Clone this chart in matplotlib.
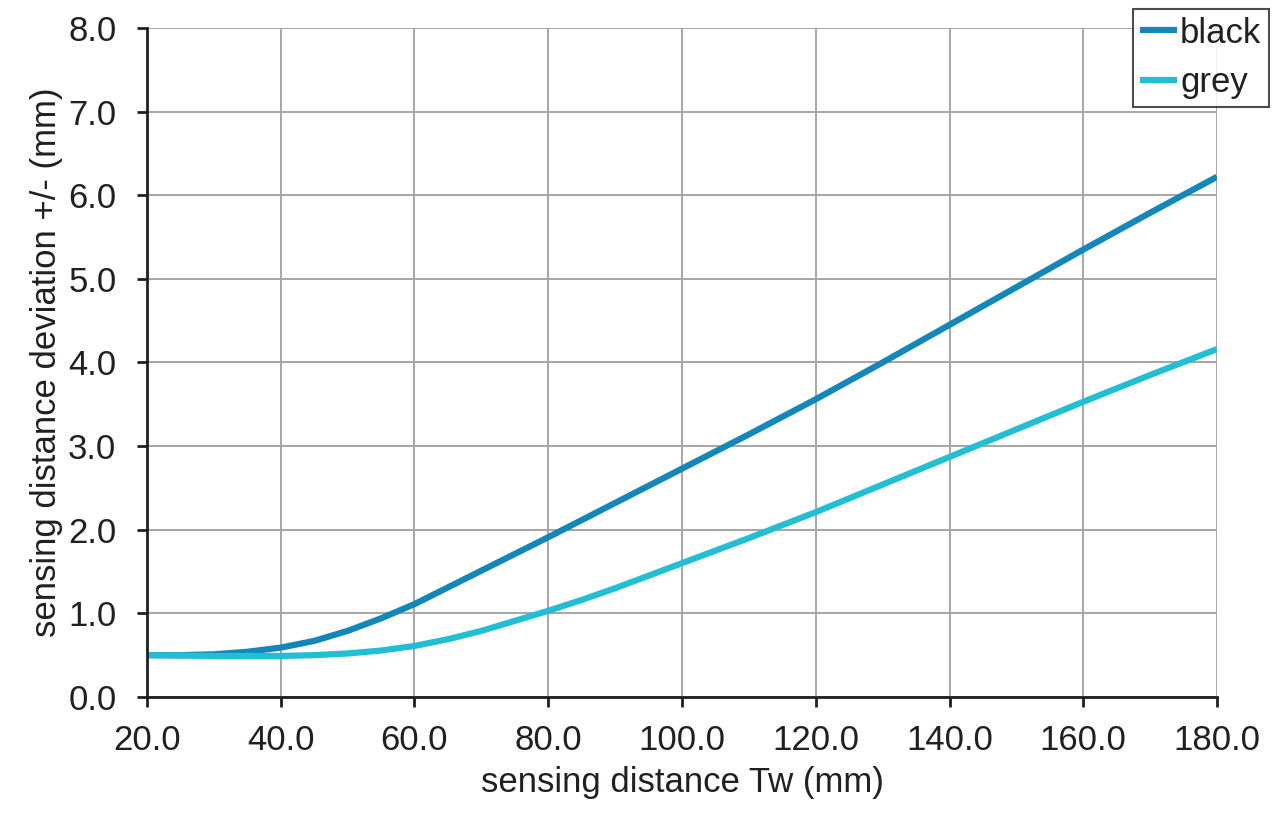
import matplotlib.pyplot as plt

# sensing distance (mm) vs deviation (mm)
x_black = [20, 25, 30, 35, 40, 45, 50, 55, 60, 65, 70, 75, 80, 90, 100, 110, 120, 130, 140, 150, 160, 170, 180]
y_black = [0.50, 0.50, 0.51, 0.54, 0.59, 0.67, 0.79, 0.94, 1.11, 1.31, 1.51, 1.71, 1.91, 2.32, 2.73, 3.14, 3.56, 4.00, 4.45, 4.90, 5.35, 5.79, 6.22]

x_grey = [20, 30, 40, 45, 50, 55, 60, 65, 70, 75, 80, 85, 90, 100, 110, 120, 130, 140, 150, 160, 170, 180]
y_grey = [0.50, 0.49, 0.49, 0.50, 0.52, 0.555, 0.61, 0.69, 0.79, 0.91, 1.03, 1.16, 1.30, 1.60, 1.90, 2.21, 2.54, 2.87, 3.20, 3.53, 3.85, 4.16]

x_ticks = [20, 40, 60, 80, 100, 120, 140, 160, 180]
y_ticks = [0, 1, 2, 3, 4, 5, 6, 7, 8]

plt.rcParams['font.family'] = ['Liberation Sans', 'DejaVu Sans']
txt = '#231f20'
fs = 25

fig = plt.figure(figsize=(12.8, 8.25), dpi=100)
ax = fig.add_axes([0.1148, 0.1552, 0.8360, 0.8109])

ax.plot(x_black, y_black, color='#1386ba', lw=4.5, label='black', solid_capstyle='butt')
ax.plot(x_grey, y_grey, color='#22bfd4', lw=4.5, label='grey', solid_capstyle='butt')

ax.set_xlim(20, 180)
ax.set_ylim(0, 8)
ax.set_xticks(x_ticks)
ax.set_yticks(y_ticks)
ax.set_xticklabels([f'{v:.1f}' for v in x_ticks])
ax.set_yticklabels([f'{v:.1f}' for v in y_ticks])
ax.grid(True, color='#a6a6a6', lw=1.4)
ax.set_axisbelow(True)

for s in ['top', 'right']:
    ax.spines[s].set_visible(False)
for s in ['left', 'bottom']:
    ax.spines[s].set_color(txt)
    ax.spines[s].set_linewidth(2)
ax.tick_params(direction='out', length=7, width=2, color=txt,
               labelsize=fs, labelcolor=txt)
ax.tick_params(axis='y', pad=15)
ax.tick_params(axis='x', pad=12.5)

ax.set_xlabel('sensing distance Tw (mm)', fontsize=fs, color=txt, labelpad=6.5)
ax.set_ylabel('sensing distance deviation +/- (mm)', fontsize=fs, color=txt, labelpad=4)

leg = ax.legend(loc='upper right', bbox_to_anchor=(1.0 + 52/1070, 1.0 + 19/669),
                fontsize=fs, frameon=True, fancybox=False, handlelength=1.05,
                handletextpad=0.1, borderpad=0.22, labelspacing=0.47,
                borderaxespad=0)
leg.get_frame().set_edgecolor(txt)
leg.get_frame().set_linewidth(1.5)
for t in leg.get_texts():
    t.set_color(txt)

fig.savefig('out.png', dpi=100)
